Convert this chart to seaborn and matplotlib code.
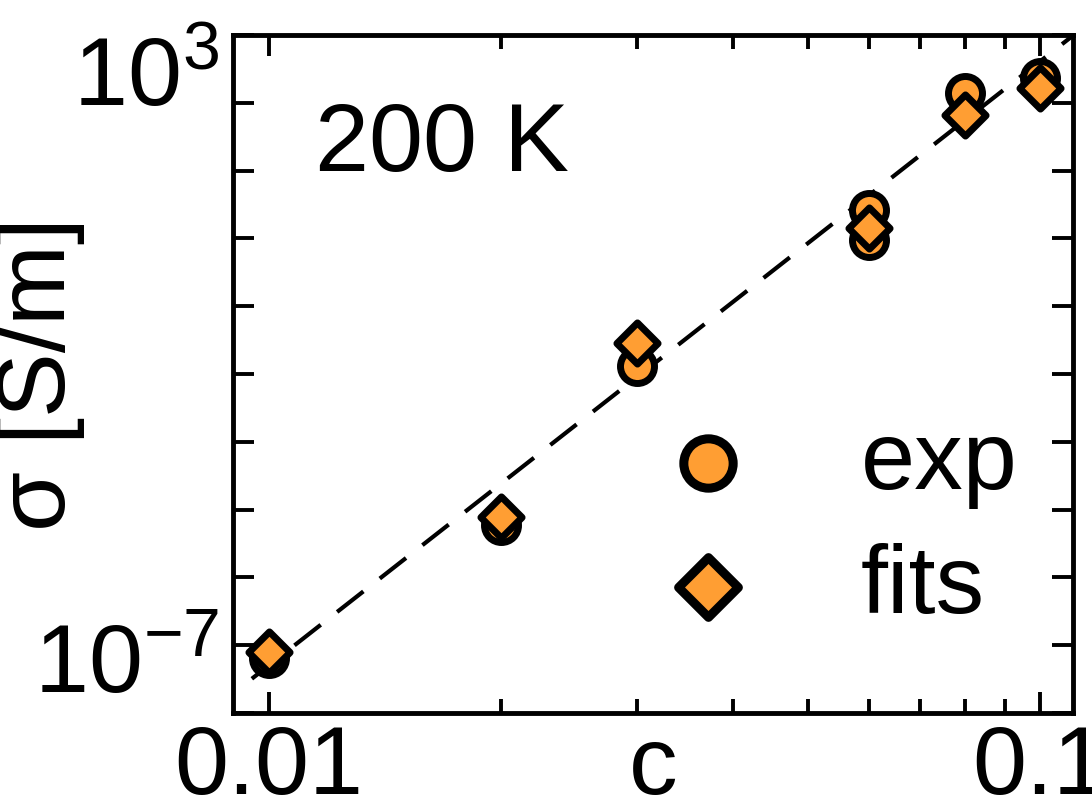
import numpy as np
import pandas as pd
import matplotlib
matplotlib.use("Agg")
import matplotlib.pyplot as plt
import matplotlib.ticker as mticker
import seaborn as sns

# ---- data ----
c_exp = [0.01, 0.02, 0.03, 0.06, 0.06, 0.08, 0.1]
sigma_exp = [6.5e-7, 5.9e-5, 1.3e-2, 2.6e0, 9.5e-1, 1.4e2, 2.35e2]
c_fit = [0.01, 0.02, 0.03, 0.06, 0.08, 0.1]
sigma_fit = [8.0e-7, 7.8e-5, 2.9e-2, 1.4e0, 6.6e1, 1.65e2]
c_line = [0.0095, 0.11]
sigma_line = [3.2e-7, 9.5e2]
labels = ["exp", "fits"]
title_text = "200 K"
x_ticklabels = ["0.01", "0.1"]
y_ticklabels = [r"$10^{-7}$", r"$10^{3}$"]

sns.set_theme(style="ticks")
plt.rcParams["font.family"] = ["Liberation Sans", "DejaVu Sans"]
plt.rcParams["mathtext.fontset"] = "custom"
plt.rcParams["mathtext.rm"] = "Liberation Sans"
plt.rcParams["mathtext.it"] = "Liberation Sans"
plt.rcParams["mathtext.default"] = "regular"
for k in ["text.color", "axes.labelcolor", "xtick.color", "ytick.color", "axes.edgecolor"]:
    plt.rcParams[k] = "black"

orange = "#FF9E33"
FS = 70

fig = plt.figure(figsize=(10.92, 8.11), dpi=100)
ax = fig.add_axes([233/1092, 1-713/811, (1073-233)/1092, (713-35)/811])

df_exp = pd.DataFrame({"c": c_exp, "sigma": sigma_exp})
df_fit = pd.DataFrame({"c": c_fit, "sigma": sigma_fit})
df_line = pd.DataFrame({"c": c_line, "sigma": sigma_line})

sns.lineplot(data=df_line, x="c", y="sigma", ax=ax, color="black",
             lw=3.0, dashes=[(8, 5)], style=[0, 0], legend=False, zorder=1)
sns.scatterplot(data=df_exp, x="c", y="sigma", ax=ax, marker="o", s=600,
                color=orange, edgecolor="black", linewidth=5, label=labels[0], zorder=3)
sns.scatterplot(data=df_fit, x="c", y="sigma", ax=ax, marker="D", s=440,
                color=orange, edgecolor="black", linewidth=5, label=labels[1], zorder=4)

ax.set_xscale("log")
ax.set_yscale("log")
ax.set_xlim(0.00898, 0.1104)
ax.set_ylim(1e-7, 1e3)

ax.xaxis.set_major_locator(mticker.FixedLocator([0.01, 0.1]))
ax.xaxis.set_major_formatter(mticker.FixedFormatter(x_ticklabels))
ax.xaxis.set_minor_locator(mticker.FixedLocator([0.02, 0.03, 0.04, 0.05, 0.06, 0.07, 0.08, 0.09]))
ax.xaxis.set_minor_formatter(mticker.NullFormatter())

yt = [10.0**k for k in range(-7, 4)]
ax.yaxis.set_major_locator(mticker.FixedLocator(yt))
ylabs = [""] * len(yt)
ylabs[0] = y_ticklabels[0]
ylabs[-1] = y_ticklabels[1]
ax.yaxis.set_major_formatter(mticker.FixedFormatter(ylabs))
ax.yaxis.set_minor_locator(mticker.NullLocator())

ax.tick_params(which="both", direction="in", top=True, right=True, width=2.8,
               labelsize=FS, color="black", labelcolor="black")
ax.tick_params(which="major", length=15)
ax.tick_params(which="minor", length=10)
ax.tick_params(axis="x", pad=8)
ax.tick_params(axis="y", pad=10)
for sp in ax.spines.values():
    sp.set_linewidth(3.5)
    sp.set_color("black")

fig.canvas.draw()
ytl = ax.get_yticklabels()
ytl[0].set_verticalalignment("bottom")
ytl[-1].set_verticalalignment("top")

ax.set_xlabel("c", fontsize=FS)
ax.xaxis.set_label_coords(0.5, -0.016)
ax.set_ylabel("σ [S/m]", fontsize=FS)
ax.yaxis.set_label_coords(-0.176, 0.5)

ax.text(0.098, 0.836, title_text, transform=ax.transAxes, fontsize=FS,
        ha="left", va="center")

leg = ax.legend(loc="center left", bbox_to_anchor=(0.461, 0.276), frameon=False,
                fontsize=FS, markerscale=1.45, handletextpad=1.07, labelspacing=0.35,
                borderpad=0.4, borderaxespad=0.0, handlelength=1.0)
for h in leg.legend_handles:
    h.set_linewidth(6.5)

fig.savefig("out.png", dpi=100)
